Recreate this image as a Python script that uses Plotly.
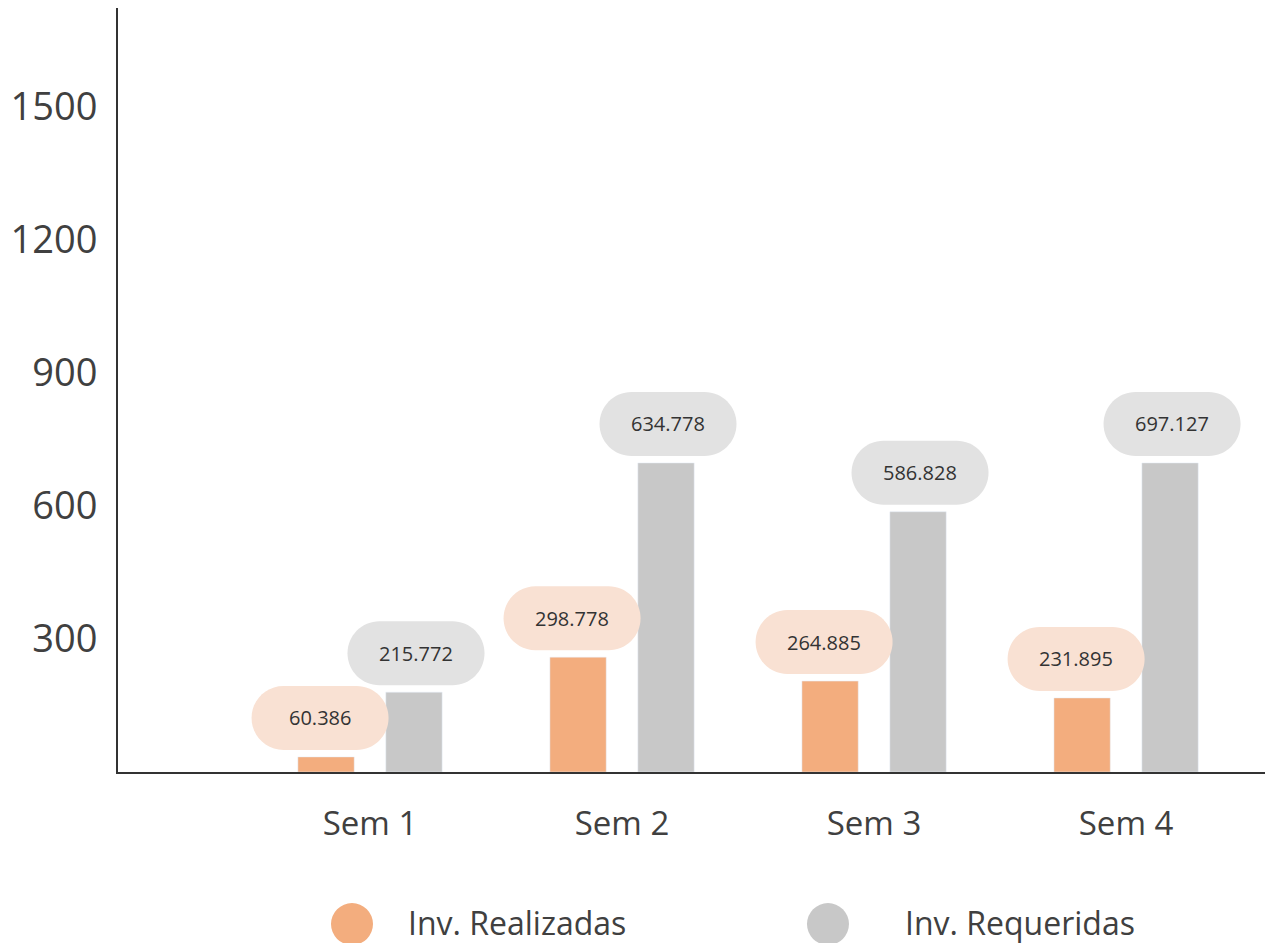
import plotly.graph_objects as go

# data
weeks = ['Sem 1', 'Sem 2', 'Sem 3', 'Sem 4']
realizadas = [34, 259, 205, 167]
requeridas = [180, 697, 587, 697]
realizadas_txt = ['60.386', '298.778', '264.885', '231.895']
requeridas_txt = ['215.772', '634.778', '586.828', '697.127']
y_ticks = [300, 600, 900, 1200, 1500]

ORANGE = '#F3AD7E'
GREY = '#C8C8C8'
ORANGE_PILL = '#F9E1D3'
GREY_PILL = '#E2E2E2'
FONT = 'Open Sans'


def pill_path(w=137, h=64, gap=7, dx=0):
    '''rounded pill in pixels, relative to the top centre of a bar (y up)'''
    r = h / 2
    k = 0.5523 * r
    a, b = dx - w / 2 + r, dx + w / 2 - r
    y0, y1, ym = gap, gap + h, gap + r
    return (f'M {a},{y0} L {b},{y0} '
            f'C {b + k},{y0} {b + r},{ym - k} {b + r},{ym} '
            f'C {b + r},{ym + k} {b + k},{y1} {b},{y1} '
            f'L {a},{y1} '
            f'C {a - k},{y1} {a - r},{ym + k} {a - r},{ym} '
            f'C {a - r},{ym - k} {a - k},{y0} {a},{y0} Z')


fig = go.Figure()
fig.add_trace(go.Bar(x=weeks, y=realizadas, name='Inv. Realizadas', marker_color=ORANGE,
                     showlegend=False, hoverinfo='skip'))
fig.add_trace(go.Bar(x=weeks, y=requeridas, name='Inv. Requeridas', marker_color=GREY,
                     showlegend=False, hoverinfo='skip'))

bargap = 0.302
slot = (1 - bargap) / 2
shapes, annotations = [], []
# value pills above each bar
for vals, txts, side, fill, dx in [(realizadas, realizadas_txt, -1, ORANGE_PILL, -6),
                                    (requeridas, requeridas_txt, 1, GREY_PILL, 2)]:
    for i, (v, t) in enumerate(zip(vals, txts)):
        xc = i + side * slot / 2
        shapes.append(dict(type='path', xref='x', yref='y', xsizemode='pixel', ysizemode='pixel',
                           xanchor=xc, yanchor=v, path=pill_path(dx=dx),
                           fillcolor=fill, line=dict(width=0), layer='above'))
        annotations.append(dict(x=xc, y=v, xref='x', yref='y', text=t, showarrow=False,
                                xshift=dx, yshift=39, font=dict(family=FONT, size=20, color='#333333')))

# legend drawn by hand (big round markers)
for xp, col, label, xt in [(0.2026, ORANGE, 'Inv. Realizadas', 0.2494),
                           (0.6147, GREY, 'Inv. Requeridas', 0.6797)]:
    shapes.append(dict(type='circle', xref='paper', yref='paper', xsizemode='pixel', ysizemode='pixel',
                       xanchor=xp, yanchor=-0.199, x0=-21, x1=21, y0=-21, y1=21,
                       fillcolor=col, line=dict(width=0)))
    annotations.append(dict(x=xt, y=-0.197, xref='paper', yref='paper', text=label, showarrow=False,
                            xanchor='left', yanchor='middle',
                            font=dict(family=FONT, size=32, color='#404040')))

# page body adds an 8px margin, so the figure is a bit smaller than the window
fig.update_layout(
    width=1265, height=935,
    margin=dict(l=110, r=0, t=0, b=171),
    barmode='group', bargap=bargap, bargroupgap=0.36,
    plot_bgcolor='white', paper_bgcolor='white',
    showlegend=False,
    shapes=shapes, annotations=annotations,
    font=dict(family=FONT, color='#404040'),
)
fig.update_xaxes(range=[-1.0, 3.583], showline=True, linecolor='#333333', linewidth=2,
                 showgrid=False, ticks='', tickfont=dict(size=33, color='#404040'),
                 ticklabelstandoff=21)
fig.update_yaxes(range=[0, 1723], tickvals=y_ticks, showline=True, linecolor='#333333', linewidth=2,
                 showgrid=False, zeroline=False, ticks='', tickfont=dict(size=38, color='#404040'),
                 ticklabelstandoff=11)

fig.write_html('out.html')
